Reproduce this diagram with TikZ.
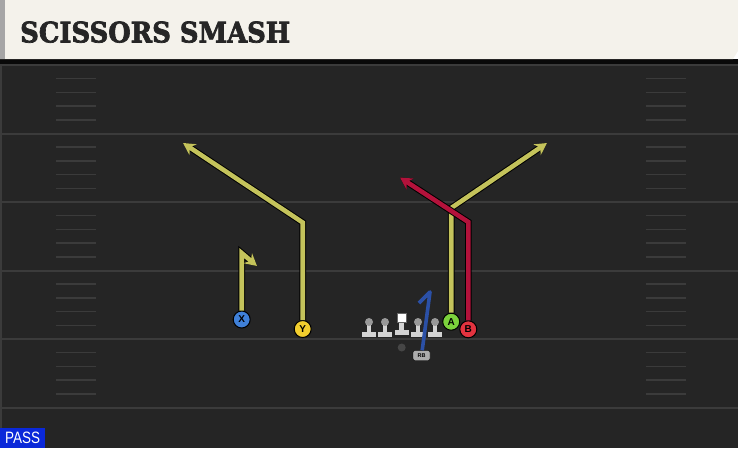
\documentclass[tikz,border=0pt]{standalone}
\usepackage{fontspec}
\setmainfont{Liberation Sans}
\newfontfamily\titlefont{DejaVu Serif Bold}[FakeBold=2.5]
\usetikzlibrary{arrows.meta,positioning}

\definecolor{fieldbg}{HTML}{252525}
\definecolor{headcream}{HTML}{F4F2EB}
\definecolor{yardgray}{HTML}{3B3B3B}
\definecolor{routeyellow}{HTML}{C4C35B}
\definecolor{routered}{HTML}{B3123B}
\definecolor{routeblue}{HTML}{2B50A6}
\definecolor{xblue}{HTML}{3F80D8}
\definecolor{yyellow}{HTML}{F2CE2E}
\definecolor{agreen}{HTML}{7CD23C}
\definecolor{bred}{HTML}{E3333F}
\definecolor{passblue}{HTML}{0A28D9}
\definecolor{linegray}{HTML}{D3D3D3}

\begin{document}
\begin{tikzpicture}[x=1pt,y=-1pt,>={Stealth[length=12pt,width=13pt]},
    player/.style={circle,draw=black,line width=1pt,inner sep=0pt,minimum size=17pt,
        font=\bfseries\fontsize{10}{10}\selectfont},
    route/.style={line width=4.6pt,preaction={draw=black,line width=6.6pt}},
    yardline/.style={yardgray,line width=2pt},
    hashline/.style={yardgray,line width=1.5pt}]

    \useasboundingbox (0,0) rectangle (738,448);

    % field and header
    \fill[fieldbg] (0,59) rectangle (738,448);
    \fill[black!75!fieldbg] (0,59) rectangle (738,64);
    \fill[headcream] (0,0) -- (738,0) -- (738,51) -- (733,59) -- (0,59) -- cycle;
    \fill[gray!70] (0,0) rectangle (5,59);
    \draw[yardline] (1,64) -- (1,448);
    \foreach \y in {65,133.5,202,270.5,339,407.5}
        \draw[yardline] (0,\y) -- (738,\y);
    \foreach \n in {0,...,4}
        \foreach \m in {1,...,4} {
            \draw[hashline] (56,{65+68.5*\n+13.7*\m}) -- ++(40,0);
            \draw[hashline] (646,{65+68.5*\n+13.7*\m}) -- ++(40,0);
        }

    \node[anchor=south west,inner sep=0pt,text=black!85] (title) at (20,43)
        {\resizebox{270pt}{21pt}{\titlefont SCISSORS SMASH}};
    \node[fill=passblue,text=white,anchor=north west,minimum width=45pt,minimum height=20pt,inner sep=0pt] (pass) at (0,428)
        {\resizebox{35pt}{11.5pt}{PASS}};

    % line
    \foreach \x in {369,385,418,435} {
        \fill[linegray] (\x-7,331.5) rectangle (\x+7,337);
        \fill[linegray] (\x-2.4,322) rectangle (\x+2.4,332);
        \fill[gray!80] (\x,322) circle (4);
    }
    \fill[linegray] (394.7,329.5) rectangle (408.7,334.5);
    \fill[linegray] (399.3,321) rectangle (404.1,330);
    \node[fill=white,draw=black!60,minimum size=9pt,inner sep=0pt] (C) at (401.2,317.7) {};
    \node[circle,fill=gray!55!black,minimum size=8pt,inner sep=0pt] (QB) at (401.7,347.5) {};

    % players
    \node[player,fill=xblue] (X) at (241.7,319.5) {X};
    \node[player,fill=yyellow] (Y) at (302.7,329) {Y};
    \node[player,fill=agreen] (A) at (451.2,321.7) {A};
    \node[player,fill=bred] (B) at (468.3,329.3) {B};
    \node[rounded corners=2pt,fill=gray!65,draw=black,minimum width=17pt,minimum height=10pt,inner sep=0pt,
        font=\bfseries\fontsize{5.5}{5.5}\selectfont] (RB) at (421.5,355.5) {RB};

    % routes
    \coordinate (Xb) at (241.7,253);
    \coordinate (Xe) at (257,266);
    \coordinate (Yb) at (302.7,222.5);
    \coordinate (Ye) at (183,143);
    \coordinate (Ab) at (451.2,208);
    \coordinate (Ae) at (547,143);
    \coordinate (Bb) at (468.3,222);
    \coordinate (Be) at (400,177.5);
    \coordinate (RBb) at (430,292);
    \coordinate (RBe) at (419,303);

    \draw[route,routeyellow,->] (X) -- (Xb) -- (Xe);
    \draw[route,routeyellow,->] (Y) -- (Yb) -- (Ye);
    \draw[route,routeyellow,->] (A) -- (Ab) -- (Ae);
    \draw[route,routered,->] (B) -- (Bb) -- (Be);
    \draw[routeblue,line width=3.6pt,line join=round] (RB) -- (RBb) -- (RBe);
\end{tikzpicture}
\end{document}
